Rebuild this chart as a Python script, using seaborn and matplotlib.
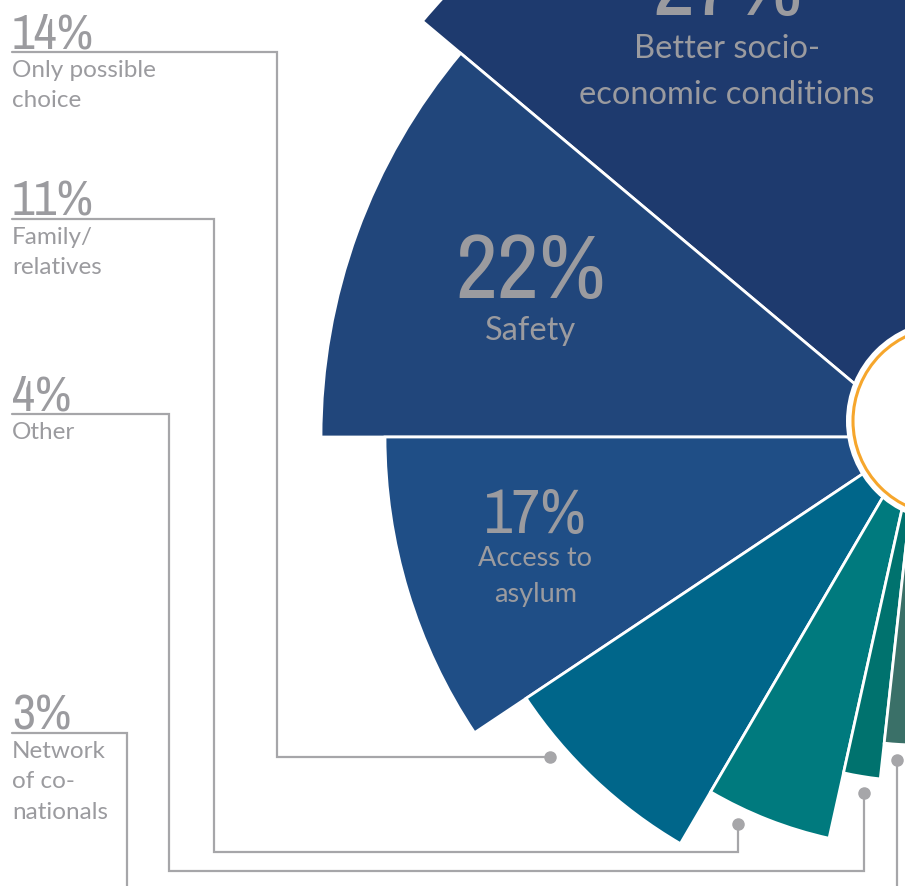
import numpy as np
import matplotlib
matplotlib.use("Agg")
import matplotlib.pyplot as plt
from matplotlib import font_manager
from matplotlib.patches import Circle
import seaborn as sns

# Reasons for choosing the destination (% of respondents)
reasons = ["Better socio-\neconomic conditions", "Safety", "Access to\nasylum",
           "Only possible\nchoice", "Family/\nrelatives", "Other", "Network\nof co-\nnationals"]
share = [27, 22, 17, 14, 11, 4, 3]
# petal length and angular width as drawn in the picture
petal_len = [647, 597, 533, 471, 411, 344, 308]
petal_deg = [48.5, 40.0, 33.7, 26.0, 17.8, 6.2, 6.0]
petal_colors = ["#1e3a6e", "#21467b", "#1f4e86", "#00668a", "#007a7e", "#00726e", "#3a7068"]

W, H = 905, 886
centre = (918, 437)      # pixel position of the rose centre (top-left origin)
R = 700                  # radius of the polar axes, in pixels
start_deg = 91.5

GREY_TXT = "#9b9b9f"
GREY_LINE = "#a6a6a9"

sns.set_theme(style="white")

# fonts: a narrow face for the big numbers, a humanist sans for words
ttf = font_manager.fontManager.ttflist
narrow = [f.fname for f in ttf
          if any(k in f.fname for k in ("Narrow", "Condensed"))
          and not any(k in f.fname for k in ("Bold", "Italic", "Oblique", "Light",
                                              "Thin", "Black", "Medium", "Semi", "Extra"))]
narrow.sort(key=lambda p: (0 if "Narrow" in p else 1, p))
if narrow:
    num_font = font_manager.FontProperties(fname=narrow[0])
else:
    num_font = font_manager.FontProperties(family="Liberation Sans")
word_family = ["Lato", "DejaVu Sans"]

fig = plt.figure(figsize=(W / 100, H / 100), dpi=100)
fig.patch.set_facecolor("white")

cx, cy = centre
ax = fig.add_axes([(cx - R) / W, (H - cy - R) / H, 2 * R / W, 2 * R / H], projection="polar")
ax.set_theta_zero_location("E")
ax.set_theta_direction(1)
ax.set_ylim(0, R)
ax.axis("off")

edges = start_deg + np.concatenate([[0], np.cumsum(petal_deg)[:-1]])
ax.bar(np.deg2rad(edges), petal_len, width=np.deg2rad(petal_deg), bottom=0,
       align="edge", color=petal_colors, edgecolor="white", linewidth=2.0, zorder=2)

# text inside the three biggest petals: (angle, radius) of the gap between number and words
inside_at = {0: (114.8, 455), 1: (161.5, 409), 2: (194.9, 396)}
inside_size = {0: (66, 23.5), 1: (66, 23.5), 2: (45, 19.5)}
inside_gap = {0: (6.5, -7), 1: (6.5, -6.5), 2: (4.5, -5)}
inside_spacing = {0: 1.7, 1: 1.7, 2: 1.55}
for i, (a, r) in inside_at.items():
    big, small = inside_size[i]
    up, down = inside_gap[i]
    ax.annotate(f"{share[i]}%", xy=(np.deg2rad(a), r), xytext=(0, up), textcoords="offset points",
                ha="center", va="baseline", fontproperties=num_font, fontsize=big,
                color=GREY_TXT, zorder=5, annotation_clip=False)
    ax.annotate(reasons[i], xy=(np.deg2rad(a), r), xytext=(0, down), textcoords="offset points",
                ha="center", va="top", family=word_family, fontsize=small,
                color=GREY_TXT, linespacing=inside_spacing[i], zorder=5, annotation_clip=False)

# overlay in pixel coordinates for the hub and the callouts
ov = fig.add_axes([0, 0, 1, 1], zorder=3)
ov.set_xlim(0, W)
ov.set_ylim(H, 0)
ov.axis("off")
ov.patch.set_alpha(0)

ov.add_patch(Circle((947, 421), 101, facecolor="white", edgecolor="none", zorder=1))
ov.add_patch(Circle((947, 421), 94, facecolor="white", edgecolor="#f6a62c", linewidth=2.2, zorder=2))

# callouts: label line y, column x, route y, pin angle
callout_idx = [3, 4, 5, 6]
label_y = [52, 219, 414, 733]
column_x = [277, 214, 169, 127]
route_y = [None, 852, 871, 905]
pin_deg = [221.0, 245.1, 261.3, 266.2]

fig.canvas.draw()
for k, i in enumerate(callout_idx):
    px, py = ax.transData.transform((np.deg2rad(pin_deg[k]), petal_len[i] + 16))
    py = H - py
    ly, colx = label_y[k], column_x[k]
    ry = py if route_y[k] is None else route_y[k]
    xs = [12, colx, colx, px, px]
    ys = [ly, ly, ry, ry, py]
    ov.plot(xs, ys, color=GREY_LINE, lw=1.6, solid_joinstyle="miter", zorder=3, clip_on=False)
    ov.plot([px], [py], "o", color=GREY_LINE, markersize=8, zorder=4)
    ov.text(12, ly - 4, f"{share[i]}%", ha="left", va="baseline",
            fontproperties=num_font, fontsize=36, color=GREY_TXT)
    ov.text(12, ly + 8, reasons[i], ha="left", va="top", family=word_family,
            fontsize=17.5, color=GREY_TXT, linespacing=1.55)

fig.savefig("out.png", dpi=100, facecolor="white")
